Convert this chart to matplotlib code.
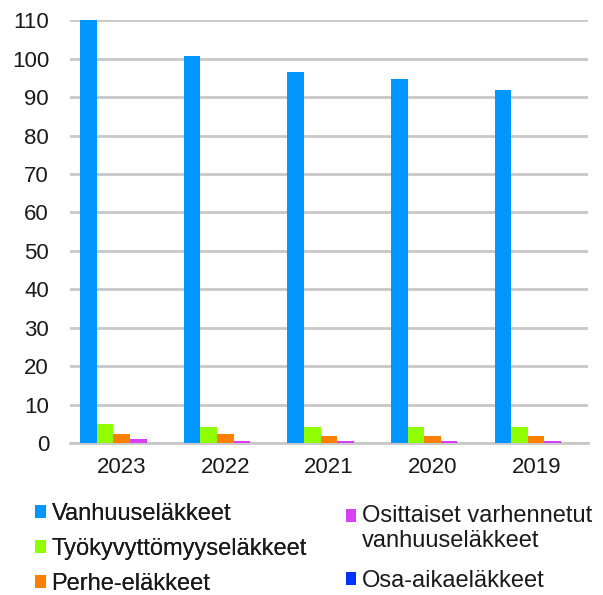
import matplotlib
matplotlib.use("Agg")
import matplotlib.pyplot as plt
from matplotlib.patches import Rectangle
from matplotlib.legend_handler import HandlerPatch, update_from_first_child
import numpy as np

years = ["2023", "2022", "2021", "2020", "2019"]
series_names = ["Vanhuuseläkkeet", "Työkyvyttömyyseläkkeet", "Perhe-eläkkeet",
                "Osittaiset varhennetut\nvanhuuseläkkeet", "Osa-aikaeläkkeet"]
vanhuus = [110.0, 100.6, 96.5, 94.7, 91.8]
tyokyvyttomyys = [4.9, 4.2, 4.2, 4.2, 4.2]
perhe = [2.4, 2.4, 1.8, 1.8, 1.8]
osittaiset = [1.1, 0.5, 0.5, 0.5, 0.5]
osa_aika = [0.0, 0.0, 0.0, 0.0, 0.0]
colors = ["#0096FF", "#8FFF00", "#FF8000", "#D93FF5", "#0033FF"]

plt.rcParams['font.family'] = ['Liberation Sans', 'DejaVu Sans']

fig = plt.figure(figsize=(6.03, 5.95), dpi=100)
ax = fig.add_axes([0.116, 0.2555, 0.859, 0.7105])

data = [vanhuus, tyokyvyttomyys, perhe, osittaiset, osa_aika]
x = np.arange(len(years))
w = 0.16
handles = []
for i, (vals, c, name) in enumerate(zip(data, colors, series_names)):
    b = ax.bar(x - 0.4 + w * (i + 0.5), vals, width=w, color=c, label=name, zorder=3)
    handles.append(b)

ax.set_xlim(-0.5, len(years) - 0.5)
ax.set_ylim(0, 110)
ax.set_yticks(np.arange(0, 111, 10))
ax.set_xticks(x)
ax.set_xticklabels(years)
ax.tick_params(axis='both', length=0, labelsize=16, colors='#1a1a1a')
ax.tick_params(axis='x', pad=10)
ax.tick_params(axis='y', pad=15)
ax.yaxis.grid(True, color='#c8c8c8', linewidth=2, zorder=0)
for s in ['top', 'right', 'left']:
    ax.spines[s].set_visible(False)
ax.spines['bottom'].set_color('#c8c8c8')
ax.spines['bottom'].set_linewidth(2)


def raised_square(legend, orig_handle, xdescent, ydescent, width, height, fontsize):
    return Rectangle((-xdescent, -ydescent + 9.5), width, height)


common = dict(loc='upper left', frameon=False, fontsize=17,
              handlelength=0.45, handleheight=0.45, handletextpad=0.25,
              borderaxespad=0, borderpad=0, labelcolor='#1a1a1a')
leg1 = fig.legend(handles=handles[:3], labels=series_names[:3],
                  bbox_to_anchor=(0.058, 0.1545), labelspacing=0.55, **common)
fig.add_artist(leg1)
leg2 = fig.legend(handles=handles[3:], labels=series_names[3:],
                  bbox_to_anchor=(0.573, 0.1515), labelspacing=0.76,
                  handler_map={handles[3]: HandlerPatch(patch_func=raised_square,
                                                        update_func=update_from_first_child)},
                  **common)

fig.savefig("out.png", dpi=100)
